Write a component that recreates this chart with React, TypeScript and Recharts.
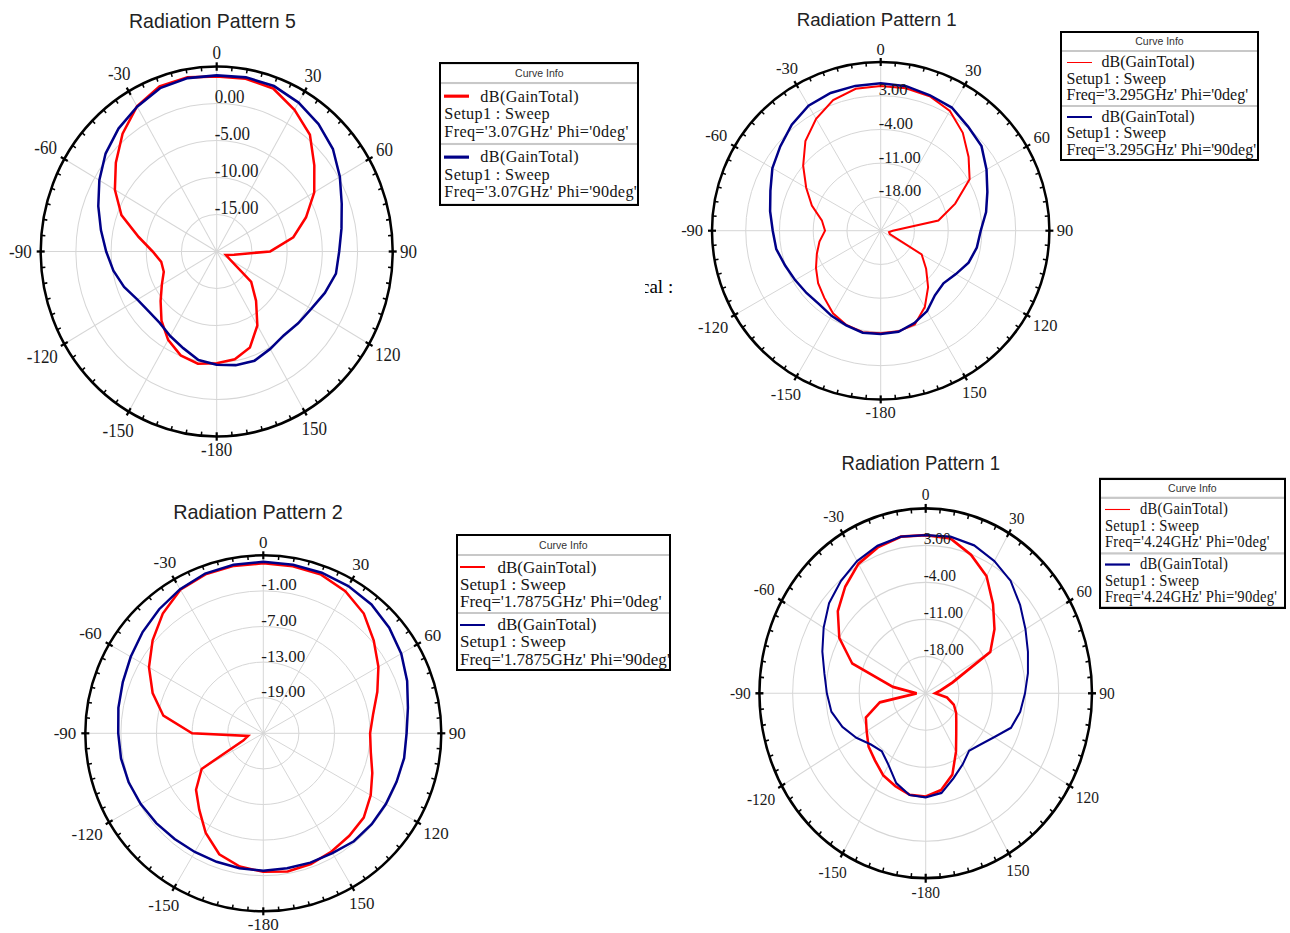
import React from 'react';
import { RadarChart, Radar, PolarGrid, PolarAngleAxis, PolarRadiusAxis, Legend } from 'recharts';

const SERIF = '"Liberation Serif", "Times New Roman", serif';
const SANS = '"Liberation Sans", Arial, sans-serif';

// theta (deg), sampled every 10 degrees
const ANGLES = [
  -180, -170, -160, -150, -140, -130, -120, -110, -100, -90, -80, -70,
  -60, -50, -40, -30, -20, -10, 0, 10, 20, 30, 40, 50,
  60, 70, 80, 90, 100, 110, 120, 130, 140, 150, 160, 170,
];

// Radiation Pattern 5 - 3.07GHz
const P5_PHI0 = [
  -4.9, -4.6, -5.05, -6.2, -7.8, -9.6, -11.0, -12.0, -12.0, -10.9, -8.75, -5.6,
  -3.3, -1.3, 0.8, 2.65, 3.75, 3.9, 3.65, 3.7, 3.45, 2.1, 0.6, -1.9,
  -4.0, -6.5, -8.95, -12.4, -17.5, -18.6, -17.8, -13.6, -11.3, -8.45, -6.2, -5.2,
];
const P5_PHI90 = [
  -4.7, -5.1, -6.1, -6.8, -7.4, -7.4, -7.0, -6.0, -5.1, -4.3, -3.3, -2.1,
  -0.75, 0.6, 1.7, 2.6, 3.5, 3.8, 3.8, 3.9, 3.8, 3.25, 2.5, 1.55,
  0.2, -1.1, -2.0, -2.6, -2.8, -3.65, -4.5, -4.9, -5.2, -4.8, -4.3, -4.4,
];
const P5_RINGS = [-20, -15, -10, -5, 0, 5];

// Radiation Pattern 1 - 3.295GHz
const P1A_PHI0 = [
  -3.7, -3.6, -4.2, -5.2, -6.8, -8.05, -9.5, -10.9, -12.1, -13.45, -12.6, -9.8,
  -7.15, -4.0, -0.7, 1.8, 3.85, 4.9, 5.0, 5.0, 4.7, 3.7, 1.5, -1.2,
  -3.7, -8.55, -12.85, -22.5, -23.25, -23.0, -15.2, -12.7, -9.7, -6.7, -4.3, -3.8,
];
const P1A_PHI90 = [
  -3.55, -3.5, -4.1, -4.6, -5.1, -4.9, -4.5, -3.9, -3.0, -2.6, -1.7, -0.65,
  0.95, 2.2, 3.7, 4.95, 5.4, 5.5, 5.6, 5.45, 4.9, 4.5, 3.2, 2.3,
  0.35, -1.45, -2.8, -4.25, -4.75, -5.6, -7.0, -8.0, -7.5, -5.75, -4.6, -3.7,
];
const P1A_RINGS = [-25, -18, -11, -4, 3, 10];

// Radiation Pattern 2 - 1.7875GHz
const P2_PHI0 = [
  -1.65, -2.2, -3.3, -5.6, -8.2, -10.2, -13.0, -21.4, -22.4, -13.0, -7.9, -5.15,
  -2.75, -0.65, 1.35, 2.95, 3.5, 3.65, 3.65, 3.6, 3.45, 2.65, 1.35, -0.7,
  -2.6, -4.55, -6.2, -7.0, -6.6, -5.45, -4.1, -2.9, -2.45, -2.0, -1.55, -1.35,
];
const P2_PHI90 = [
  -1.85, -1.9, -1.95, -1.9, -1.75, -1.45, -1.15, -0.85, -0.65, -0.55, -0.2, 0.2,
  0.8, 1.55, 2.3, 3.05, 3.65, 3.85, 3.9, 3.85, 3.8, 3.65, 3.35, 2.7,
  1.85, 0.8, -0.25, -0.85, -0.9, -1.1, -1.15, -1.15, -1.25, -1.7, -1.8, -1.9,
];
const P2_RINGS = [-25, -19, -13, -7, -1, 5];

// Radiation Pattern 1 - 4.24GHz
const P1B_PHI0 = [
  -5.45, -5.5, -6.3, -7.1, -8.4, -9.3, -10.65, -11.6, -15.2, -23.1, -18.0, -8.55,
  -4.0, -0.85, 1.35, 3.3, 4.4, 5.1, 4.95, 4.8, 2.9, 0.6, -2.95, -6.1,
  -9.3, -19.0, -21.85, -23.0, -20.45, -18.7, -17.6, -16.6, -15.0, -12.25, -8.6, -6.4,
];
const P1B_PHI90 = [
  -5.3, -5.45, -6.9, -9.35, -10.65, -9.95, -8.15, -6.35, -4.85, -4.2, -3.35, -1.85,
  -0.2, 1.55, 2.75, 3.9, 4.7, 5.1, 4.95, 5.1, 4.8, 3.9, 2.8, 0.95,
  -0.75, -2.1, -3.15, -4.1, -4.8, -5.9, -8.4, -9.95, -10.8, -9.45, -7.9, -5.85,
];
const P1B_RINGS = [-25, -18, -11, -4, 3, 10];

const MAJOR_TICKS = [-180, -150, -120, -90, -60, -30, 0, 30, 60, 90, 120, 150];
const ANGLE_TICKS = Array.from({ length: 72 }, (_, i) => -180 + i * 5);
const PHI_LABEL: Record<string, string> = { phi0: '0deg', phi90: '90deg' };

const buildRows = (a: number[], b: number[]) =>
  ANGLES.map((deg, i) => ({ deg, phi0: a[i], phi90: b[i] }));

const CHARTS = [
  {
    title: 'Radiation Pattern 5', freq: '3.07GHz', rows: buildRows(P5_PHI0, P5_PHI90), rings: P5_RINGS,
    left: 0, top: 0, width: 645, height: 452, k: 1.051, cx: 216.7, cy: 239.3, r: 176,
    titleX: 212.5, titleY: 19.7, titleSize: 19.5, fs: 17, redW: 2.5, blueW: 2.5,
    legend: { left: 439.3, top: 59.3, width: 200, headerH: 17, lh: 16.4, padT: 3.5, padB: 3, fs: 16.2, ls: 0.35, sample: 3, padL: 3, gap: 11 },
  },
  {
    title: 'Radiation Pattern 1', freq: '3.295GHz', rows: buildRows(P1A_PHI0, P1A_PHI90), rings: P1A_RINGS,
    left: 674, top: 0, width: 606, height: 430, k: 1, cx: 206.7, cy: 230.7, r: 168.7,
    titleX: 202.7, titleY: 20, titleSize: 18.7, fs: 16.5, redW: 2, blueW: 2.5,
    legend: { left: 386, top: 31, width: 199, headerH: 17, lh: 16.5, padT: 2, padB: 1, fs: 16, ls: 0, sample: 1.5, padL: 4.5, gap: 10 },
  },
  {
    title: 'Radiation Pattern 2', freq: '1.7875GHz', rows: buildRows(P2_PHI0, P2_PHI90), rings: P2_RINGS,
    left: 0, top: 480, width: 680, height: 453, k: 1, cx: 263.3, cy: 253.3, r: 178,
    titleX: 258, titleY: 31.7, titleSize: 19.8, fs: 17, redW: 2.5, blueW: 2.5,
    legend: { left: 456, top: 54, width: 214.7, headerH: 18, lh: 17.3, padT: 2.5, padB: 1.3, fs: 17, ls: 0, sample: 1.5, padL: 2, gap: 12.5 },
  },
  {
    title: 'Radiation Pattern 1', freq: '4.24GHz', rows: buildRows(P1B_PHI0, P1B_PHI90), rings: P1B_RINGS,
    left: 700, top: 450, width: 590, height: 431, k: 1.112, cx: 225.7, cy: 218.8, r: 166.3,
    titleX: 220.8, titleY: 12, titleSize: 18.5, fs: 15.5, redW: 2.5, blueW: 2,
    legend: { left: 399, top: 24.6, width: 186.7, headerH: 15.8, lh: 14.8, padT: 1.5, padB: 1.6, fs: 14.6, ls: 0.25, sample: 1.5, padL: 4, gap: 10 },
  },
];

type Chart = (typeof CHARTS)[number];

function AngleTick(props: any) {
  const { x, y, cx, cy, payload, fs } = props;
  const v = Number(payload.value);
  const dx = x - cx;
  const dy = y - cy;
  const d = Math.hypot(dx, dy) || 1;
  const ux = dx / d;
  const uy = dy / d;
  const r = typeof props.radius === 'number' ? props.radius : d - 8;
  const at = (rr: number) => [cx + ux * rr, cy + uy * rr];
  const major = v % 30 === 0;
  const [x1, y1] = at(r - 4);
  const [x2, y2] = at(major ? r + 4 : r);
  let label = null;
  if (major) {
    const text = String(v);
    const off = r + 7 + Math.abs(ux) * text.length * fs * 0.26 + Math.abs(uy) * fs * 0.36;
    const [tx, ty] = at(off);
    label = (
      <text x={tx} y={ty} textAnchor="middle" dominantBaseline="central" fontFamily={SERIF} fontSize={fs} fill="#1a1a1a">
        {text}
      </text>
    );
  }
  return (
    <g>
      <line x1={x1} y1={y1} x2={x2} y2={y2} stroke="#000" strokeWidth={major ? 2.2 : 1.5} />
      {label}
    </g>
  );
}

function RingTick(props: any) {
  const { x, y, payload, fs, hide } = props;
  const v = Number(payload.value);
  if (hide.includes(v)) return <g />;
  return (
    <text x={x - 2} y={y - 6} textAnchor="start" dominantBaseline="central" fontFamily={SERIF} fontSize={fs} fill="#1a1a1a">
      {v.toFixed(2)}
    </text>
  );
}

function CurveInfo({ payload, chart }: { payload: any[]; chart: Chart }) {
  const L = chart.legend;
  const items = ['phi0', 'phi90']
    .map((key) => (payload || []).find((p: any) => p.dataKey === key))
    .filter(Boolean);
  return (
    <div
      style={{
        width: L.width, boxSizing: 'border-box', border: '2px solid #000', background: '#fff',
        fontFamily: SERIF, fontSize: L.fs, letterSpacing: L.ls, color: '#141414',
      }}
    >
      <div style={{ height: L.headerH, lineHeight: `${L.headerH}px`, textAlign: 'center', fontFamily: SANS, fontSize: 10.5, letterSpacing: 0, color: '#333' }}>
        Curve Info
      </div>
      {items.map((item: any) => (
        <div
          key={item.dataKey}
          style={{ borderTop: '2px solid #c8c8c8', padding: `${L.padT}px 0 ${L.padB}px ${L.padL}px`, lineHeight: `${L.lh}px`, whiteSpace: 'nowrap' }}
        >
          <div style={{ display: 'flex', alignItems: 'center', height: L.lh }}>
            <span style={{ display: 'inline-block', width: 25, height: L.sample, background: item.color, marginRight: L.gap }} />
            <span>{item.value}</span>
          </div>
          <div style={{ height: L.lh }}>Setup1 : Sweep</div>
          <div style={{ height: L.lh }}>
            Freq='{chart.freq}' Phi='{PHI_LABEL[item.dataKey]}'
          </div>
        </div>
      ))}
    </div>
  );
}

function PolarPlot({ chart }: { chart: Chart }) {
  const min = chart.rings[0];
  const max = chart.rings[chart.rings.length - 1];
  return (
    <div
      style={{
        position: 'absolute', left: chart.left, top: chart.top, width: chart.width, height: chart.height,
        background: '#fff', transform: `scaleY(${chart.k})`, transformOrigin: '0 0',
      }}
    >
      <div
        style={{
          position: 'absolute', left: chart.titleX, top: chart.titleY, transform: 'translate(-50%, -50%)',
          fontFamily: SANS, fontSize: chart.titleSize, color: '#222', whiteSpace: 'nowrap', zIndex: 2,
        }}
      >
        {chart.title}
      </div>
      <RadarChart
        width={chart.width}
        height={chart.height}
        data={chart.rows}
        cx={chart.cx}
        cy={chart.cy}
        outerRadius={chart.r}
        startAngle={270}
        endAngle={-90}
        margin={{ top: 0, right: 0, bottom: 0, left: 0 }}
      >
        <PolarGrid gridType="circle" stroke="#d6d6d6" polarAngles={MAJOR_TICKS.map((v) => 90 - v)} />
        <PolarAngleAxis
          dataKey="deg"
          type="number"
          domain={[-180, 180]}
          ticks={ANGLE_TICKS}
          stroke="#000"
          axisLineType="circle"
          axisLine={{ stroke: '#000', strokeWidth: 2.5 }}
          tickLine={false}
          tickSize={8}
          tick={(p: any) => <AngleTick {...p} fs={chart.fs} />}
        />
        <PolarRadiusAxis
          angle={90}
          type="number"
          domain={[min, max]}
          ticks={chart.rings}
          tickCount={chart.rings.length}
          allowDataOverflow
          axisLine={false}
          tickLine={false}
          tick={(p: any) => <RingTick {...p} fs={chart.fs} hide={[min, max]} />}
        />
        <Radar name="dB(GainTotal)" dataKey="phi0" stroke="#ff0000" strokeWidth={chart.redW} fill="none" fillOpacity={0} dot={false} isAnimationActive={false} />
        <Radar name="dB(GainTotal)" dataKey="phi90" stroke="#000088" strokeWidth={chart.blueW} fill="none" fillOpacity={0} dot={false} isAnimationActive={false} />
        <Legend
          layout="vertical"
          align="right"
          verticalAlign="top"
          wrapperStyle={{ left: chart.legend.left, top: chart.legend.top, width: chart.legend.width }}
          content={(p: any) => <CurveInfo payload={p.payload} chart={chart} />}
        />
      </RadarChart>
    </div>
  );
}

export default function App() {
  return (
    <div style={{ position: 'absolute', left: 0, top: 0, width: 1290, height: 933, background: '#fff', overflow: 'hidden' }}>
      <div style={{ position: 'absolute', left: 641, top: 277, fontFamily: SERIF, fontSize: 19, lineHeight: '19px', color: '#000' }}>
        cal :
      </div>
      {CHARTS.map((c, i) => (
        <PolarPlot key={i} chart={c} />
      ))}
    </div>
  );
}
